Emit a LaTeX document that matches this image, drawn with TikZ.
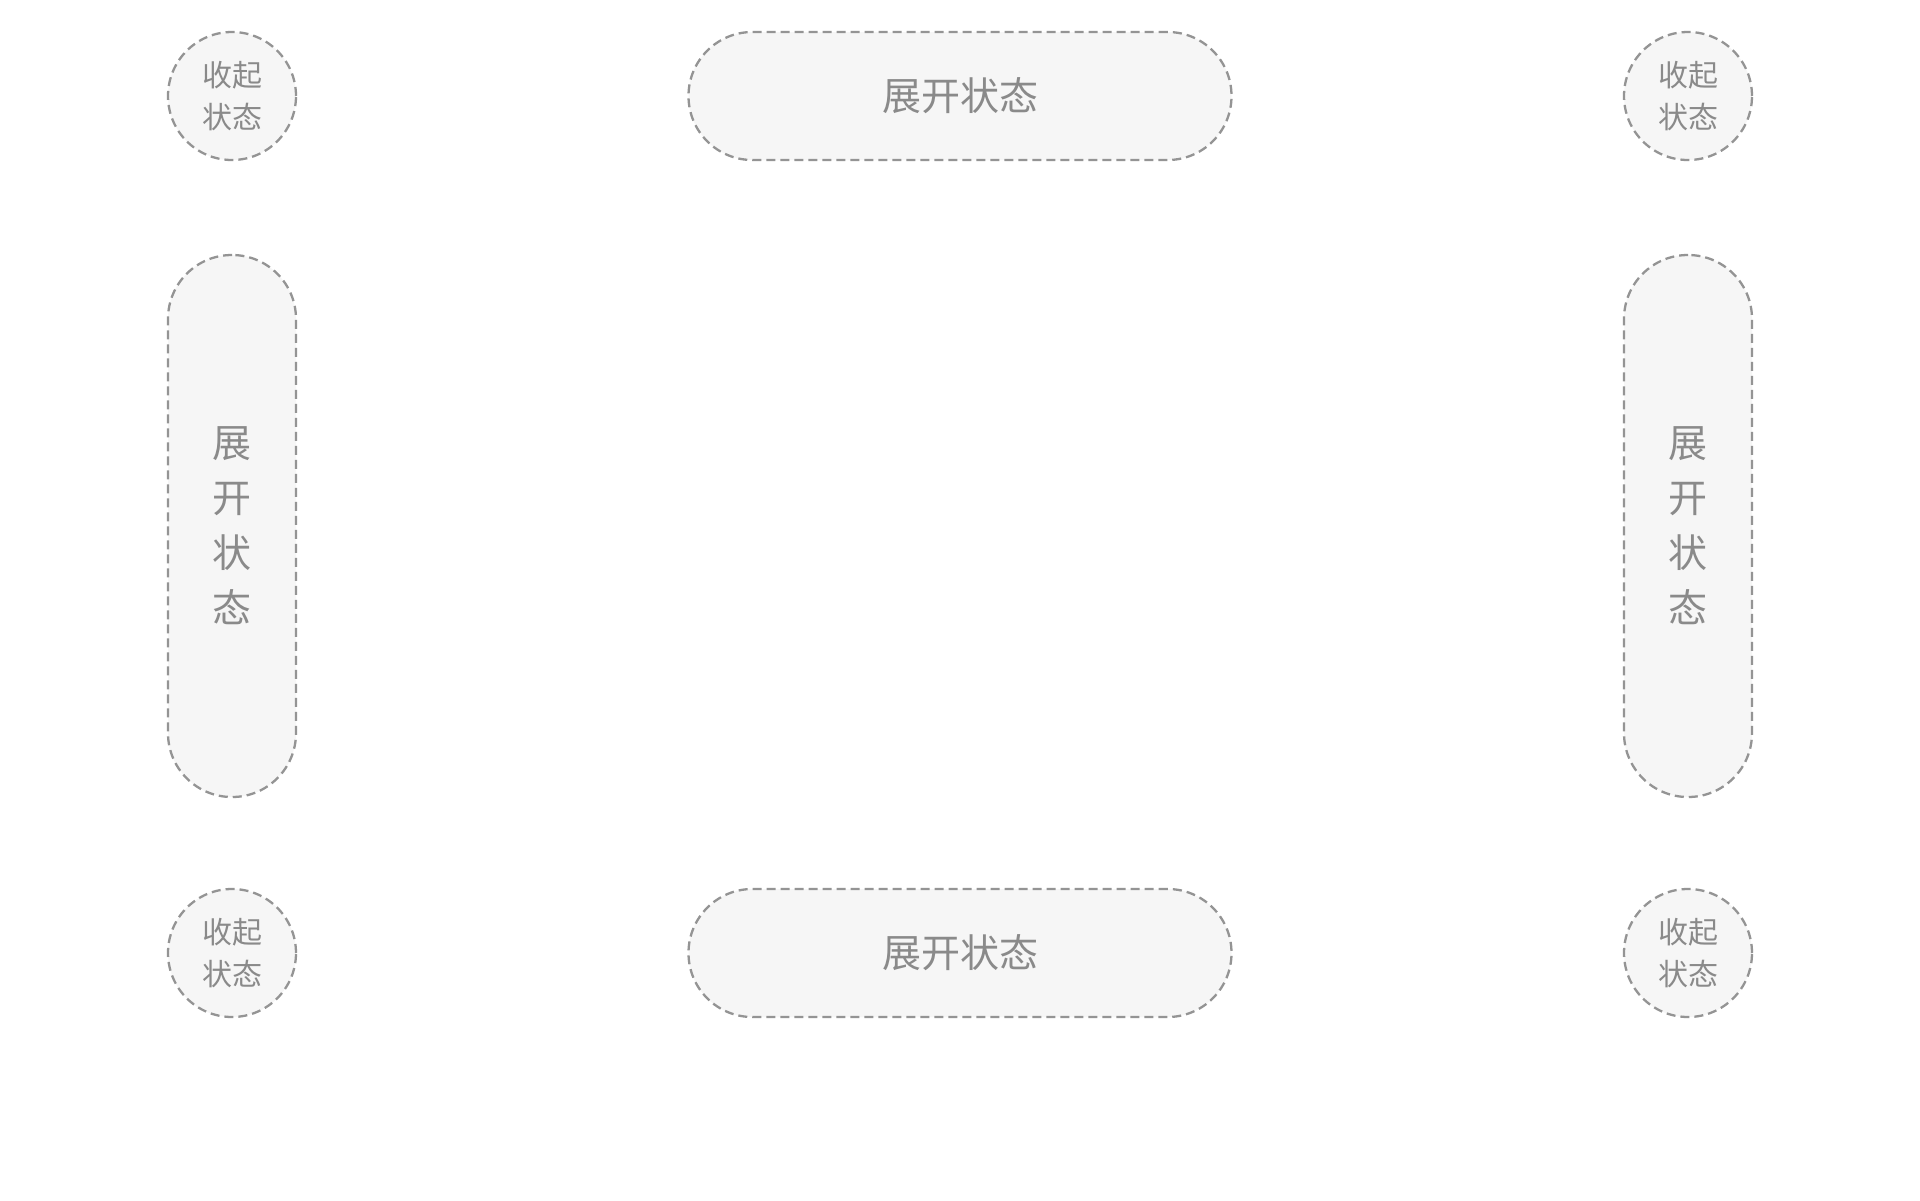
\documentclass[tikz,border=0pt]{standalone}
\usepackage{fontspec}
\newfontfamily\cjk{Noto Sans CJK SC}
\definecolor{dashgray}{RGB}{148,148,148}
\definecolor{fillgray}{RGB}{246,246,246}
\definecolor{textgray}{RGB}{138,138,138}
\begin{document}
\begin{tikzpicture}[x=1pt,y=-1pt,
  statebase/.style={draw=dashgray, fill=fillgray, line width=2.3pt,
    dash pattern=on 9pt off 5pt, inner sep=0pt, text=textgray, align=center},
  collapsed/.style={statebase, circle, minimum size=128pt,
    font=\cjk\fontsize{30}{42}\selectfont},
  expandh/.style={statebase, rectangle, rounded corners=63.9pt,
    minimum width=543pt, minimum height=128pt,
    font=\cjk\fontsize{39}{55}\selectfont},
  expandv/.style={statebase, rectangle, rounded corners=63.9pt,
    minimum width=128pt, minimum height=542pt,
    font=\cjk\fontsize{39}{55}\selectfont}]
\fill[white] (0,0) rectangle (1920,1200);
\useasboundingbox (0,0) rectangle (1920,1200);

\node[collapsed] (tl) at (232,96) {收起\\状态};
\node[collapsed] (tr) at (1688,96) {收起\\状态};
\node[collapsed] (bl) at (232,953) {收起\\状态};
\node[collapsed] (br) at (1688,953) {收起\\状态};

\node[expandh] (top) at (960,96) {展开状态};
\node[expandh] (bottom) at (960,953) {展开状态};

\node[expandv] (left) at (232,526) {展\\开\\状\\态};
\node[expandv] (right) at (1688,526) {展\\开\\状\\态};
\end{tikzpicture}
\end{document}
